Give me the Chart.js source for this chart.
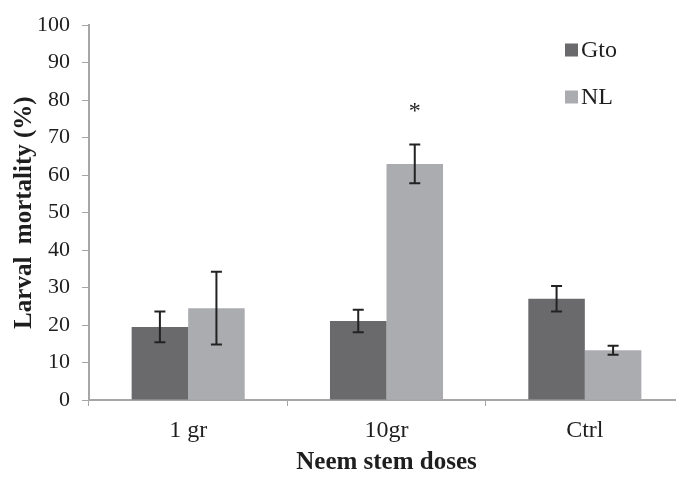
<!DOCTYPE html>
<html>
<head>
<meta charset="utf-8">
<title>Larval mortality</title>
<script src="https://cdn.jsdelivr.net/npm/chart.js@4.4.1/dist/chart.umd.min.js"></script>
<style>
  html, body { margin: 0; padding: 0; background: #fff; overflow: hidden; }
  #wrap { width: 684px; height: 478px; }
</style>
</head>
<body>
<div id="wrap"><canvas id="mortalityChart" width="684" height="478"></canvas></div>
<script>
// chart data
const doses = ["1 gr", "10gr", "Ctrl"];
const gtoValues = [19.5, 21.1, 27.0];
const gtoErrors = [4.1, 3.0, 3.4];
const nlValues = [24.5, 63.0, 13.3];
const nlErrors = [9.7, 5.2, 1.2];
const nlMarks = ["", "*", ""];
const markLevel = 77;
const yTicks = [0, 10, 20, 30, 40, 50, 60, 70, 80, 90, 100];

const GTO_COLOR = "#6a6a6c";
const NL_COLOR = "#abacb0";
const AXIS_COLOR = "#a6a6a6";
const TEXT_COLOR = "#1e1e1e";
const FONT = "'Liberation Serif', 'Times New Roman', serif";

// Error bars, significance star and the little in-plot legend
const extrasPlugin = {
    id: "extras",
    afterDatasetsDraw(chart) {
        const ctx = chart.ctx;
        const y = chart.scales.y;

        ctx.save();
        ctx.strokeStyle = "#222";
        ctx.lineWidth = 2;
        chart.data.datasets.forEach((ds, i) => {
            const meta = chart.getDatasetMeta(i);
            meta.data.forEach((bar, j) => {
                const v = ds.data[j];
                const e = ds.errors[j];
                const top = y.getPixelForValue(v + e);
                const bottom = y.getPixelForValue(v - e);
                const cap = 5.5;
                ctx.beginPath();
                ctx.moveTo(bar.x, top);
                ctx.lineTo(bar.x, bottom);
                ctx.moveTo(bar.x - cap, top);
                ctx.lineTo(bar.x + cap, top);
                ctx.moveTo(bar.x - cap, bottom);
                ctx.lineTo(bar.x + cap, bottom);
                ctx.stroke();
            });
        });

        // star above NL bar
        const nlMeta = chart.getDatasetMeta(1);
        ctx.fillStyle = TEXT_COLOR;
        ctx.font = "24px " + FONT;
        ctx.textAlign = "center";
        ctx.textBaseline = "middle";
        nlMarks.forEach((m, j) => {
            if (m) ctx.fillText(m, nlMeta.data[j].x, y.getPixelForValue(markLevel));
        });

        // legend
        ctx.font = "24px " + FONT;
        ctx.textAlign = "left";
        const items = [["Gto", GTO_COLOR, 50], ["NL", NL_COLOR, 97]];
        items.forEach(([label, color, cy]) => {
            ctx.fillStyle = color;
            ctx.fillRect(565, cy - 6.5, 13, 13);
            ctx.fillStyle = TEXT_COLOR;
            ctx.fillText(label, 581, cy + 1);
        });
        ctx.restore();
    }
};

new Chart(document.getElementById("mortalityChart"), {
    type: "bar",
    data: {
        labels: doses,
        datasets: [
            {
                label: "Gto",
                data: gtoValues,
                errors: gtoErrors,
                backgroundColor: GTO_COLOR
            },
            {
                label: "NL",
                data: nlValues,
                errors: nlErrors,
                backgroundColor: NL_COLOR
            }
        ]
    },
    options: {
        responsive: false,
        animation: false,
        devicePixelRatio: 1,
        layout: { padding: { top: 21, right: 0, bottom: 0, left: 0 } },
        datasets: {
            bar: { categoryPercentage: 0.57, barPercentage: 1.0 }
        },
        scales: {
            x: {
                grid: {
                    offset: true,
                    drawOnChartArea: false,
                    tickLength: 6,
                    color: AXIS_COLOR
                },
                border: { color: AXIS_COLOR, width: 2 },
                ticks: {
                    color: TEXT_COLOR,
                    padding: 10,
                    font: { family: FONT, size: 24 }
                },
                title: {
                    display: true,
                    text: "Neem stem doses",
                    color: TEXT_COLOR,
                    padding: { top: 2, bottom: 0 },
                    font: { family: FONT, size: 25, weight: "bold" }
                },
                afterFit: scale => { scale.height = 78; }
            },
            y: {
                min: 0,
                max: 100,
                afterBuildTicks: scale => {
                    scale.ticks = yTicks.map(v => ({ value: v }));
                },
                grid: {
                    drawOnChartArea: false,
                    tickLength: 7,
                    color: AXIS_COLOR
                },
                border: { color: AXIS_COLOR, width: 2 },
                ticks: {
                    color: TEXT_COLOR,
                    padding: 12,
                    font: { family: FONT, size: 22 }
                },
                title: {
                    display: true,
                    text: "Larval  mortality (%)",
                    color: TEXT_COLOR,
                    padding: { top: 10, bottom: 0 },
                    font: { family: FONT, size: 25, weight: "bold" }
                },
                afterFit: scale => { scale.width = 89; }
            }
        },
        plugins: {
            legend: { display: false },
            tooltip: { enabled: false }
        }
    },
    plugins: [extrasPlugin]
});
</script>
</body>
</html>
